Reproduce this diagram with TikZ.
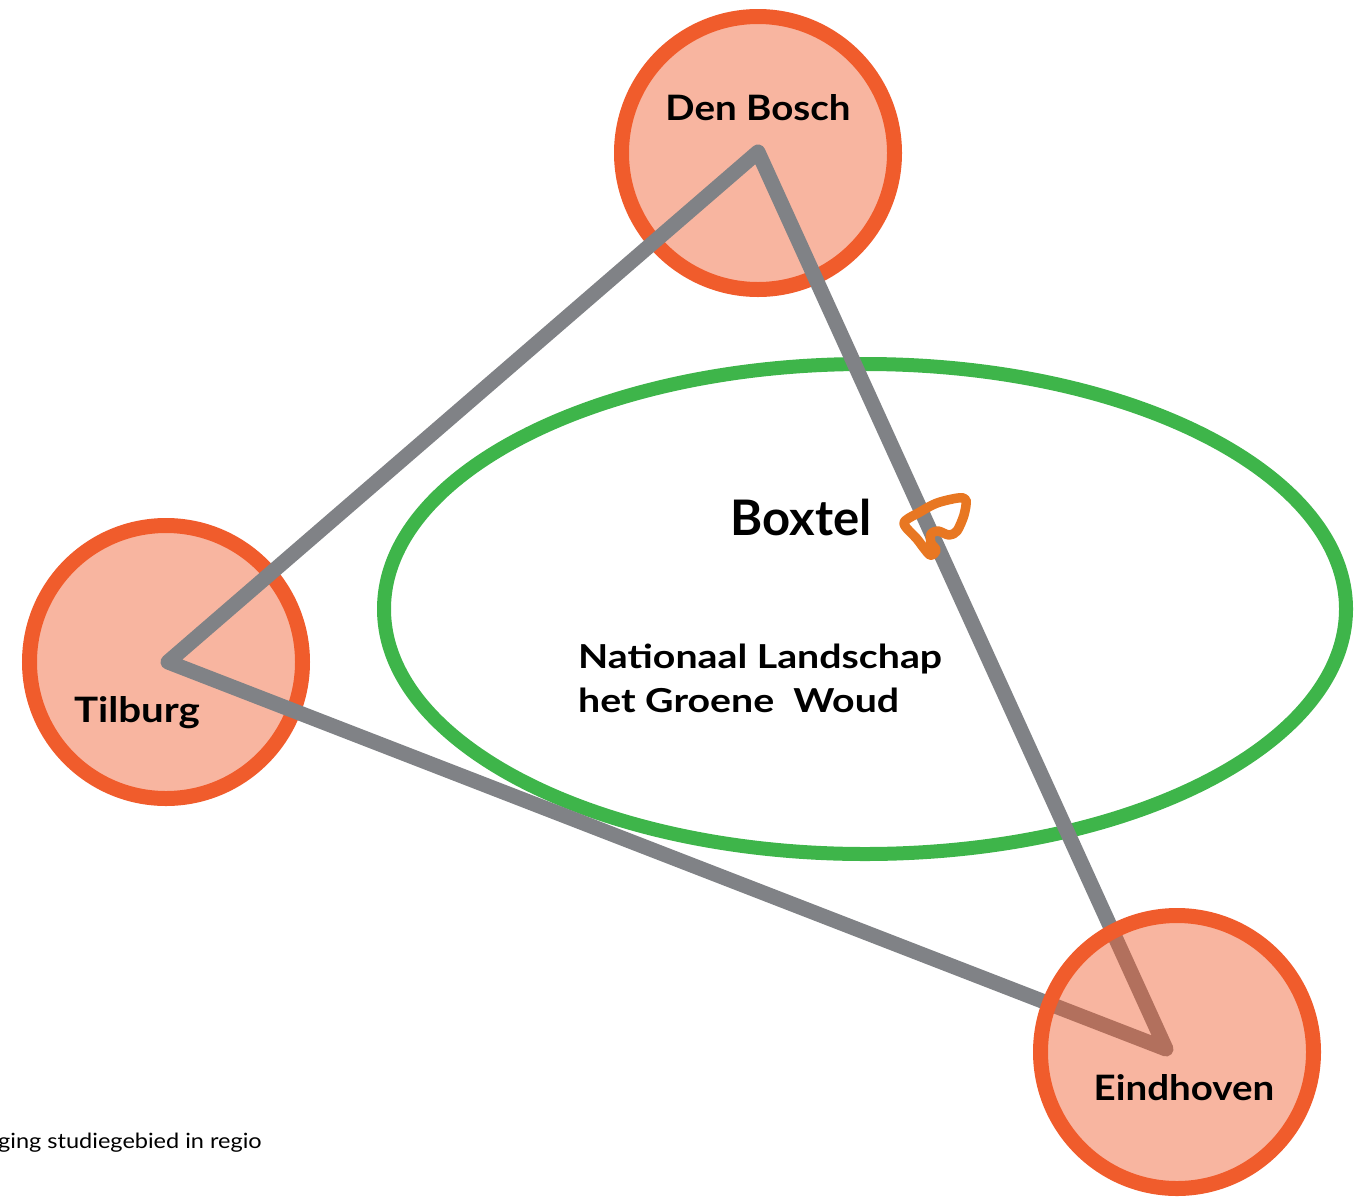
\documentclass[tikz,border=0pt]{standalone}
\usepackage{fontspec}
\setmainfont{Lato}
\newfontfamily\wideten[FakeStretch=1.10]{Lato}
\newfontfamily\widefifteen[FakeStretch=1.15]{Lato}
\newfontfamily\wideeighteen[FakeStretch=1.19]{Lato}
\newfontfamily\widetwelve[FakeStretch=1.12]{Lato}
\usetikzlibrary{calc,shapes.geometric}
\definecolor{ringorange}{RGB}{240,92,44}
\definecolor{linegrey}{RGB}{128,130,134}
\definecolor{woudgreen}{RGB}{62,181,74}
\definecolor{markorange}{RGB}{232,119,34}
\tikzset{
  city/.style={circle, draw=ringorange, line width=15pt, fill=ringorange, fill opacity=0.45, draw opacity=1, minimum size=273pt, inner sep=0pt},
  cityname/.style={text=black, anchor=base, inner sep=0pt},
  link/.style={draw=linegrey, line width=15pt, line join=round, line cap=round},
}
\begin{document}
\begin{tikzpicture}[x=1pt,y=-1pt]
\useasboundingbox (0,0) rectangle (1370,1197);
% green ellipse
\node (woud) [ellipse, draw=woudgreen, line width=14pt, minimum width=962pt, minimum height=490pt, inner sep=0pt] at (865,609) {};
% circles below lines
\node (denbosch) [city] at (758,153) {};
\node (tilburg) [city] at (166,662) {};
% line vertices
\coordinate (vD) at (758,152);
\coordinate (vT) at (168,662);
\coordinate (vE) at (1166,1049);
\draw[link] (vT) -- (vD) -- (vE) -- cycle;
% Eindhoven above lines
\node (eindhoven) [city] at (1177,1052) {};
% labels
\node (lbd) [cityname, font=\wideten\bfseries\fontsize{35}{40}\selectfont] at (758,120) {Den Bosch};
\node (lbt) [cityname, font=\widefifteen\bfseries\fontsize{35}{40}\selectfont] at (137,722) {Tilburg};
\node (lbe) [cityname, font=\wideten\bfseries\fontsize{35}{40}\selectfont] at (1184,1100) {Eindhoven};
\node (lbx) [cityname, font=\bfseries\fontsize{49}{52}\selectfont] at (801,535) {Boxtel};
\node (lbn) [font=\wideeighteen\bfseries\fontsize{33}{45}\selectfont, anchor=base west, inner sep=0pt] at (578,668) {Nationaal Landschap};
\node (lbh) [font=\wideeighteen\bfseries\fontsize{33}{45}\selectfont, anchor=base west, inner sep=0pt] at (578,712) {het Groene\ \ Woud};
\node (cap) [font=\widetwelve\fontsize{21}{24}\selectfont, anchor=base west, inner sep=0pt] at (-2,1148) {ging studiegebied in regio};
% Boxtel marker
\draw[markorange, line width=9.5pt, line join=round, line cap=round]
  plot[smooth cycle, tension=0.5] coordinates {(904,523) (920,512) (937,503) (958,498) (966,500) (964,515) (957,531) (949,535) (938,531) (931,534) (931,543) (936,550) (930,555) (917,539)};
\end{tikzpicture}
\end{document}
